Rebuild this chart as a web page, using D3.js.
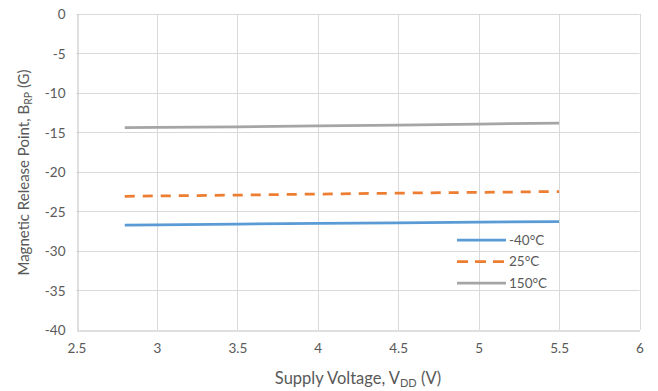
<!DOCTYPE html>
<html><head><meta charset="utf-8">
<script src="https://cdn.jsdelivr.net/npm/d3@7"></script>
<style>body{margin:0;background:#fff}svg{display:block}</style>
</head><body>
<svg id="c" width="658" height="391"></svg>
<script>
const voltages = [2.8, 3.0, 3.5, 4.0, 4.5, 5.0, 5.5];
const seriesNames = ["-40°C", "25°C", "150°C"];
const valsM40 = [-26.75, -26.72, -26.62, -26.52, -26.45, -26.38, -26.3];
const vals25 = [-23.1, -23.05, -22.95, -22.82, -22.7, -22.6, -22.5];
const vals150 = [-14.42, -14.38, -14.3, -14.2, -14.08, -13.96, -13.84];
const xTicks = [2.5, 3, 3.5, 4, 4.5, 5, 5.5, 6];
const yTicks = [0, -5, -10, -15, -20, -25, -30, -35, -40];
const colors = ["#5b9bd5", "#ed7d31", "#a5a5a5"];
const dashes = [null, "10,8", null];

const svg = d3.select("#c");
const font = "Lato, 'Open Sans', sans-serif";
const x = d3.scaleLinear().domain([2.5, 6]).range([76.5, 639.5]);
const y = d3.scaleLinear().domain([-40, 0]).range([329.8, 13.8]);

// gridlines
svg.append("g").selectAll("line.h").data(yTicks.filter(d => d !== -40)).join("line")
  .attr("x1", x(2.5)).attr("x2", x(6)).attr("y1", d => Math.round(y(d)) + 0.5).attr("y2", d => Math.round(y(d)) + 0.5)
  .attr("stroke", "#d9d9d9").attr("stroke-width", 1);
svg.append("g").selectAll("line.v").data(xTicks.filter(d => d !== 2.5)).join("line")
  .attr("x1", d => Math.round(x(d)) + 0.5).attr("x2", d => Math.round(x(d)) + 0.5)
  .attr("y1", y(0)).attr("y2", y(-40))
  .attr("stroke", "#d9d9d9").attr("stroke-width", 1);

// axes
const xAxis = d3.axisBottom(x).tickValues(xTicks).tickSize(0).tickPadding(13).tickFormat(d3.format(""));
const yAxis = d3.axisLeft(y).tickValues(yTicks).tickSize(0).tickPadding(12).tickFormat(d => d);
const gx = svg.append("g").attr("transform", `translate(0,${Math.round(y(-40)) + 0.5})`).call(xAxis);
const gy = svg.append("g").attr("transform", `translate(${Math.round(x(2.5)) + 0.5},0)`).call(yAxis);
[gx, gy].forEach(g => {
  g.select(".domain").attr("stroke", "#bfbfbf").attr("stroke-width", 1);
  g.selectAll("text").attr("fill", "#595959").style("font-family", font).style("font-size", "13.5px");
});
gy.selectAll("text").attr("dy", "0.35em");

// lines
const allVals = [valsM40, vals25, vals150];
const line = d3.line().x((d, i) => x(voltages[i])).y(d => y(d));
allVals.forEach((vals, k) => {
  svg.append("path").datum(vals).attr("d", line)
    .attr("fill", "none").attr("stroke", colors[k]).attr("stroke-width", 2.75)
    .attr("stroke-dasharray", dashes[k]);
});

// legend
const lg = svg.append("g");
seriesNames.forEach((name, k) => {
  const yy = 240 + k * 21.5;
  lg.append("line").attr("x1", 457).attr("x2", 506).attr("y1", yy).attr("y2", yy)
    .attr("stroke", colors[k]).attr("stroke-width", 2.75).attr("stroke-dasharray", dashes[k] ? "11,7" : null);
  lg.append("text").attr("x", 509).attr("y", yy).attr("dy", "0.35em")
    .attr("fill", "#595959").style("font-family", font).style("font-size", "13.5px").text(name);
});

// axis titles
const xt = svg.append("text").attr("x", 358).attr("y", 384).attr("text-anchor", "middle")
  .attr("fill", "#595959").style("font-family", font).style("font-size", "16.5px");
xt.append("tspan").text("Supply Voltage, V");
xt.append("tspan").attr("dy", 3).style("font-size", "11px").text("DD");
xt.append("tspan").attr("dy", -3).text(" (V)");

const yt = svg.append("text").attr("transform", "translate(29,172.5) rotate(-90)").attr("text-anchor", "middle")
  .attr("fill", "#595959").style("font-family", font).style("font-size", "15px");
yt.append("tspan").text("Magnetic Release Point, B");
yt.append("tspan").attr("dy", 3).style("font-size", "10.5px").text("RP");
yt.append("tspan").attr("dy", -3).text(" (G)");
</script>
</body></html>
